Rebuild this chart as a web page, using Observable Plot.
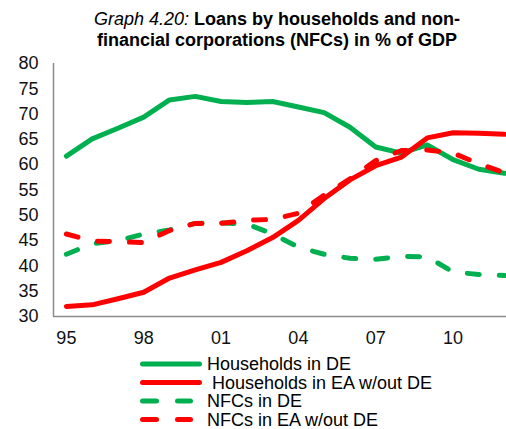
<!DOCTYPE html>
<html><head><meta charset="utf-8">
<script src="https://cdn.jsdelivr.net/npm/d3@7"></script>
<script src="https://cdn.jsdelivr.net/npm/@observablehq/plot@0.6"></script>
<style>
body{margin:0;background:#fff;font-family:"Liberation Sans",Arial,sans-serif;}
#wrap{position:relative;width:506px;height:429px;overflow:hidden;background:#fff;}
#title{position:absolute;left:48px;top:9px;width:458px;text-align:center;font-size:18px;line-height:21px;color:#000;}
#title i{font-weight:normal;}
#chart{position:absolute;left:0;top:50px;}
#legend{position:absolute;left:0;top:350px;}
</style></head>
<body>
<div id="wrap">
  <div id="title"><i>Graph 4.20:</i> <b>Loans by households and non-<br>financial corporations (NFCs) in % of GDP</b></div>
  <div id="chart"></div>
  <svg id="legend" width="506" height="79"></svg>
</div>
<script>
const years = [1995,1996,1997,1998,1999,2000,2001,2002,2003,2004,2005,2006,2007,2008,2009,2010,2011,2012];
const hhDE  = [61.7,65.1,67.2,69.4,72.8,73.5,72.5,72.3,72.5,71.4,70.3,67.4,63.5,62.3,63.9,61.0,59.1,58.3];
const hhEA  = [32.0,32.3,33.5,34.8,37.6,39.2,40.7,43.0,45.6,49.0,53.3,57.0,59.8,61.5,65.3,66.3,66.2,66.0];
const nfcDE = [42.3,44.4,45.0,46.3,47.1,48.4,48.5,48.3,46.3,43.7,42.3,41.5,41.3,41.9,41.8,38.8,38.3,38.1];
const nfcEA = [46.3,44.9,44.8,44.6,47.0,48.4,48.4,49.0,49.2,50.4,54.0,57.2,60.8,62.8,62.9,62.3,60.2,58.4];
const seriesNames = ["Households in DE","Households in EA w/out DE","NFCs in DE","NFCs in EA w/out DE"];
const seriesColors = ["#00B050","#FF0000","#00B050","#FF0000"];
const seriesDashed = [false,false,true,true];
const xTicks = [1995,1998,2001,2004,2007,2010];
const yTicks = [30,35,40,45,50,55,60,65,70,75,80];

const seriesValues = [hhDE, hhEA, nfcDE, nfcEA];
const lineMarks = seriesValues.map((vals, s) => Plot.line(
  years.map((yr, i) => ({year: yr, value: vals[i]})),
  {x: "year", y: "value", stroke: seriesColors[s], strokeWidth: 5,
   strokeLinecap: "round", strokeLinejoin: "round",
   strokeDasharray: seriesDashed[s] ? "12,20" : null}
));

const chart = Plot.plot({
  width: 506, height: 300,
  marginTop: 13, marginBottom: 34, marginLeft: 53, marginRight: 0,
  style: {fontFamily: "'Liberation Sans', Arial, sans-serif", fontSize: "18px", color: "#111", background: "white"},
  x: {domain: [1994.5, 2012.5], range: [53, 517], ticks: xTicks, tickFormat: d => String(d).slice(2), tickSize: 0, tickPadding: 15, label: null},
  y: {domain: [30, 80], ticks: yTicks, tickSize: 0, tickPadding: 15, label: null},
  marks: [
    Plot.ruleX([1994.5], {stroke: "#8c8c8c", strokeWidth: 1.5}),
    Plot.ruleY([30], {stroke: "#8c8c8c", strokeWidth: 1.5}),
    ...lineMarks
  ]
});
document.getElementById("chart").appendChild(chart);

// legend
const lg = d3.select("#legend");
const rowY = [14, 32.5, 51, 69.5];
seriesNames.forEach((name, s) => {
  const y = rowY[s];
  lg.append("line").attr("x1", 142.5).attr("x2", seriesDashed[s] ? 190.5 : 199.5)
    .attr("y1", y).attr("y2", y)
    .attr("stroke", seriesColors[s]).attr("stroke-width", 5).attr("stroke-linecap", "round")
    .attr("stroke-dasharray", seriesDashed[s] ? "14,21" : null);
  lg.append("text").attr("x", s === 1 ? 212 : 207).attr("y", y).attr("dy", "0.35em")
    .attr("font-size", 18).attr("font-family", "'Liberation Sans', Arial, sans-serif")
    .attr("fill", "#000").text(name);
});
</script>
</body></html>
